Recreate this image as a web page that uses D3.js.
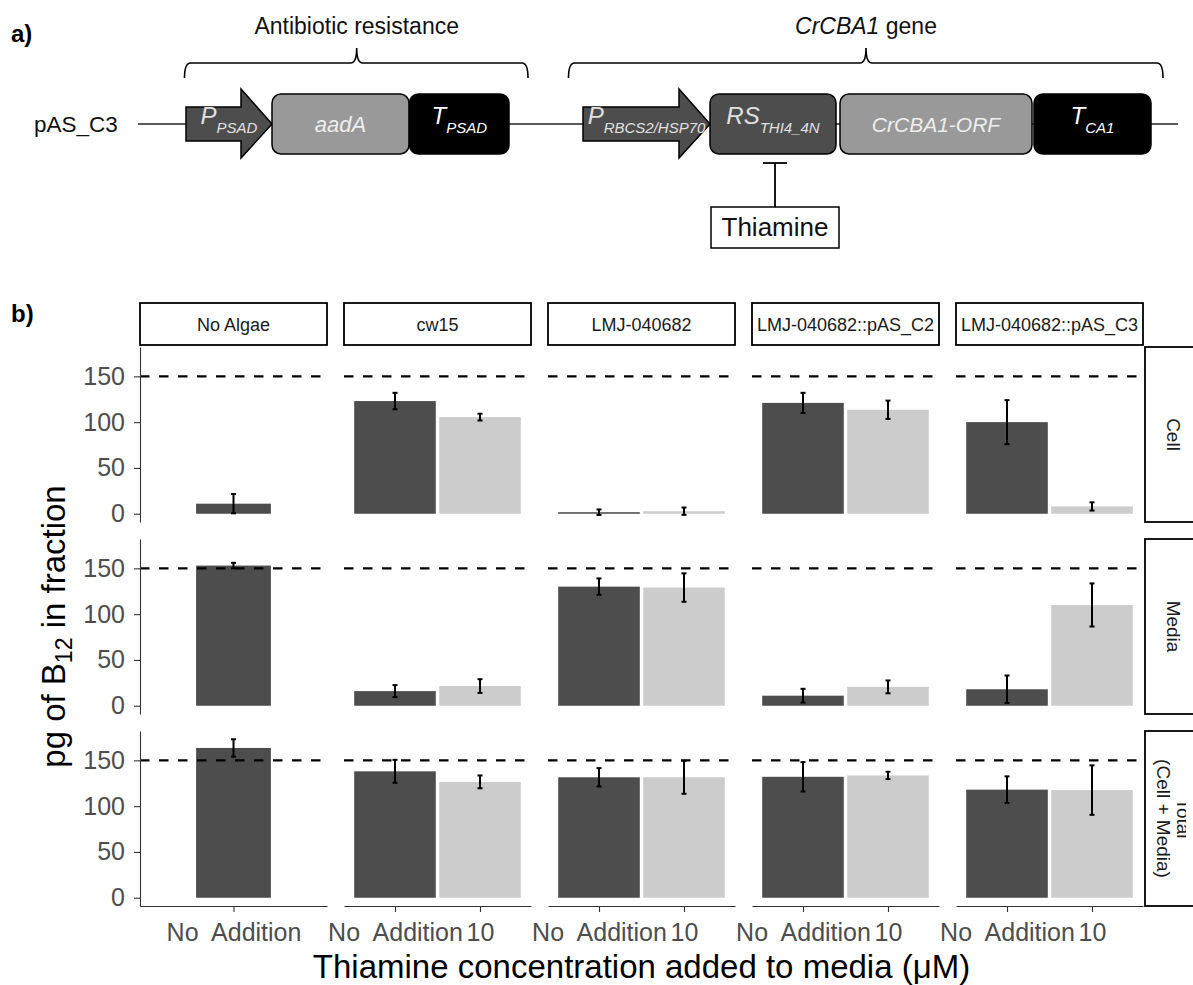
<!DOCTYPE html>
<html>
<head>
<meta charset="utf-8">
<script src="https://cdn.jsdelivr.net/npm/d3@7"></script>
<style>
  body { margin: 0; background: #fff; }
  svg { display: block; font-family: "Liberation Sans", Arial, Helvetica, sans-serif; }
</style>
</head>
<body>
<svg id="chart" width="1193" height="985"></svg>
<script>
// facet columns / rows and the x categories
var strains = ["No Algae", "cw15", "LMJ-040682", "LMJ-040682::pAS_C2", "LMJ-040682::pAS_C3"];
var fractions = ["Cell", "Media", "Total|(Cell + Media)"];
var thiamineLevels = ["No  Addition", "10"];
var yTicks = [0, 50, 100, 150];
var referenceLine = 150; // pg B12 added

// mean pg B12 per strain (null = not measured) and error half-widths
var cellNoAdd     = [11, 123, 1.7, 121, 100];
var cellNoAddErr  = [10.5, 9, 3, 11, 24];
var cellTen       = [null, 105.5, 2.8, 113.5, 8];
var cellTenErr    = [null, 3.7, 4, 10, 4.5];

var mediaNoAdd    = [153, 16, 130, 11, 18];
var mediaNoAddErr = [3, 6.5, 9, 7.5, 15];
var mediaTen      = [null, 21.5, 129, 20.6, 110];
var mediaTenErr   = [null, 7.5, 15.5, 7, 23.5];

var totalNoAdd    = [163.5, 138, 131.5, 132, 118];
var totalNoAddErr = [9.5, 12.5, 10, 16, 14.5];
var totalTen      = [null, 126.5, 131.5, 133.5, 117.5];
var totalTenErr   = [null, 7, 18, 4, 27];

// construct diagram parts (panel a)
var constructParts = [
  {kind: "arrow", main: "P", sub: "PSAD", fill: "#4D4D4D", text: "#e0e0e0"},
  {kind: "box", main: "aadA", sub: "", fill: "#999999", text: "#eeeeee"},
  {kind: "box", main: "T", sub: "PSAD", fill: "#000000", text: "#ffffff"},
  {kind: "arrow", main: "P", sub: "RBCS2/HSP70", fill: "#4D4D4D", text: "#e0e0e0"},
  {kind: "box", main: "RS", sub: "THI4_4N", fill: "#4D4D4D", text: "#e0e0e0"},
  {kind: "box", main: "CrCBA1-ORF", sub: "", fill: "#999999", text: "#eeeeee"},
  {kind: "box", main: "T", sub: "CA1", fill: "#000000", text: "#ffffff"}
];

var fractionMeans = [[cellNoAdd, cellTen], [mediaNoAdd, mediaTen], [totalNoAdd, totalTen]];
var fractionErrs = [[cellNoAddErr, cellTenErr], [mediaNoAddErr, mediaTenErr], [totalNoAddErr, totalTenErr]];

var svg = d3.select("#chart");
var ink = "#000";

// ---------- panel a: the construct ----------
var partX = [[186, 272], [272, 409], [409.5, 509], [583, 710], [710, 836], [840, 1032], [1034, 1151]];
var lineY = 124;

svg.append("text").attr("x", 11).attr("y", 42).attr("font-size", 24).attr("font-weight", "bold").text("a)");
svg.append("text").attr("x", 34).attr("y", lineY + 8).attr("font-size", 22.5).attr("fill", "#111").text("pAS_C3");

svg.append("line").attr("x1", 138).attr("x2", 1178).attr("y1", lineY).attr("y2", lineY)
  .attr("stroke", "#222").attr("stroke-width", 1.5);

function brace(xl, xr, xc, label, italicWord) {
  var yH = 63, yEnd = 78, yPeak = 48;
  var p = d3.path();
  p.moveTo(xl, yEnd);
  p.quadraticCurveTo(xl, yH, xl + 6, yH);
  p.lineTo(xc - 6, yH);
  p.quadraticCurveTo(xc, yH, xc, yPeak);
  p.quadraticCurveTo(xc, yH, xc + 6, yH);
  p.lineTo(xr - 6, yH);
  p.quadraticCurveTo(xr, yH, xr, yEnd);
  svg.append("path").attr("d", p.toString()).attr("fill", "none").attr("stroke", ink).attr("stroke-width", 1.6);
  var t = svg.append("text").attr("x", xc).attr("y", 34).attr("text-anchor", "middle").attr("font-size", 23).attr("fill", "#111");
  if (italicWord) {
    t.append("tspan").attr("font-style", "italic").text(italicWord);
    t.append("tspan").text(" " + label);
  } else {
    t.text(label);
  }
}
brace(184.5, 528, 356.7, "Antibiotic resistance");
brace(568.5, 1163, 866, "gene", "CrCBA1");

constructParts.forEach(function(d, i) {
  var x0 = partX[i][0], x1 = partX[i][1];
  var g = svg.append("g");
  if (d.kind === "arrow") {
    var headBase = x1 - 31;
    g.append("path")
      .attr("d", "M" + x0 + "," + (lineY - 17) + "H" + headBase + "V" + (lineY - 35) + "L" + x1 + "," + lineY +
        "L" + headBase + "," + (lineY + 34) + "V" + (lineY + 17) + "H" + x0 + "Z")
      .attr("fill", d.fill).attr("stroke", ink).attr("stroke-width", 1.5);
  } else {
    g.append("rect").attr("x", x0).attr("y", lineY - 30).attr("width", x1 - x0).attr("height", 60)
      .attr("rx", 9).attr("fill", d.fill).attr("stroke", ink).attr("stroke-width", 1.5);
  }
  var t = g.append("text").attr("x", (x0 + x1) / 2).attr("text-anchor", "middle").attr("font-style", "italic").attr("fill", d.text);
  if (d.sub) {
    t.attr("y", lineY);
    t.append("tspan").attr("font-size", 24).text(d.main);
    t.append("tspan").attr("font-size", 15).attr("dy", 9).text(d.sub);
  } else {
    t.attr("y", lineY + 8).attr("font-size", d.main.length > 5 ? 21 : 22).text(d.main);
  }
});

// thiamine repression of the riboswitch
svg.append("line").attr("x1", 775).attr("x2", 775).attr("y1", 163).attr("y2", 207).attr("stroke", ink).attr("stroke-width", 1.8);
svg.append("line").attr("x1", 763).attr("x2", 787).attr("y1", 163).attr("y2", 163).attr("stroke", ink).attr("stroke-width", 1.8);
svg.append("rect").attr("x", 711).attr("y", 207).attr("width", 128).attr("height", 41)
  .attr("fill", "#fff").attr("stroke", ink).attr("stroke-width", 1.5);
svg.append("text").attr("x", 775).attr("y", 236).attr("text-anchor", "middle").attr("font-size", 26).attr("fill", "#111").text("Thiamine");

// ---------- panel b: faceted bar chart ----------
var plot = {left: 140, top: 347, panelW: 187, panelH: 175, gapX: 17, gapY: 17, stripH: 42, stripGap: 2};
svg.append("text").attr("x", 11).attr("y", 322).attr("font-size", 24).attr("font-weight", "bold").text("b)");

var y = d3.scaleLinear().domain([-9, 182]).range([plot.panelH, 0]);
var fillFor = d3.scaleOrdinal().domain(thiamineLevels).range(["#4D4D4D", "#CCCCCC"]);

function panelLevels(s) {
  return thiamineLevels.filter(function(l, i) { return fractionMeans[0][i][s] !== null; });
}

function styleAxis(g) {
  g.attr("font-size", null).attr("font-family", null);
  g.select(".domain").attr("stroke", "#333").attr("stroke-width", 1.1);
  g.selectAll(".tick line").attr("stroke", "#333").attr("stroke-width", 1.1);
  g.selectAll(".tick text").attr("font-size", 25).attr("fill", "#4D4D4D").style("white-space", "pre");
}

svg.append("clipPath").attr("id", "rightClip")
  .append("rect").attr("x", 1145).attr("y", 0).attr("width", 41).attr("height", 985);

strains.forEach(function(strain, c) {
  var px = plot.left + c * (plot.panelW + plot.gapX);
  var levels = panelLevels(c);
  var x = d3.scalePoint().domain(levels).range([0, plot.panelW]).padding(0.6);
  var bw = levels.length === 1 ? 0.48 * x.step() : 0.96 * x.step();

  // strip on top
  svg.append("rect").attr("x", px).attr("y", plot.top - plot.stripGap - plot.stripH)
    .attr("width", plot.panelW).attr("height", plot.stripH)
    .attr("fill", "#fff").attr("stroke", ink).attr("stroke-width", 1.8);
  svg.append("text").attr("x", px + plot.panelW / 2).attr("y", plot.top - plot.stripGap - plot.stripH / 2 + 6.5)
    .attr("text-anchor", "middle").attr("font-size", 18).attr("fill", "#1A1A1A").text(strain);

  fractions.forEach(function(frac, r) {
    var py = plot.top + r * (plot.panelH + plot.gapY);
    var g = svg.append("g").attr("transform", "translate(" + px + "," + py + ")");
    var rows = levels.map(function(l) {
      var i = thiamineLevels.indexOf(l);
      return {level: l, mean: fractionMeans[r][i][c], err: fractionErrs[r][i][c]};
    });

    g.selectAll("rect.bar").data(rows).join("rect").attr("class", "bar")
      .attr("x", function(d) { return x(d.level) - bw / 2; })
      .attr("y", function(d) { return y(d.mean); })
      .attr("width", bw)
      .attr("height", function(d) { return y(0) - y(d.mean); })
      .attr("fill", function(d) { return fillFor(d.level); });

    var eb = g.selectAll("g.err").data(rows).join("g").attr("class", "err")
      .attr("stroke", ink).attr("stroke-width", 2);
    eb.append("line")
      .attr("x1", function(d) { return x(d.level); }).attr("x2", function(d) { return x(d.level); })
      .attr("y1", function(d) { return y(d.mean + d.err); }).attr("y2", function(d) { return y(Math.max(d.mean - d.err, -9)); });
    [1, -1].forEach(function(sign) {
      eb.append("line")
        .attr("x1", function(d) { return x(d.level) - 2.5; }).attr("x2", function(d) { return x(d.level) + 2.5; })
        .attr("y1", function(d) { return y(d.mean + sign * d.err); }).attr("y2", function(d) { return y(d.mean + sign * d.err); });
    });

    g.append("line").attr("x1", 0).attr("x2", plot.panelW)
      .attr("y1", y(referenceLine)).attr("y2", y(referenceLine))
      .attr("stroke", ink).attr("stroke-width", 2.2).attr("stroke-dasharray", "9.5,9.5");

    if (c === 0) {
      g.append("g").call(d3.axisLeft(y).tickValues(yTicks).tickSize(6).tickSizeOuter(0).tickPadding(9)).call(styleAxis);
    }
    if (r === fractions.length - 1) {
      g.append("g").attr("transform", "translate(0," + plot.panelH + ")")
        .call(d3.axisBottom(x).tickSize(6).tickSizeOuter(0).tickPadding(11)).call(styleAxis);
    }

    if (c === strains.length - 1) {
      var sx = px + plot.panelW + plot.stripGap;
      svg.append("rect").attr("x", sx).attr("y", py).attr("width", 70).attr("height", plot.panelH)
        .attr("fill", "#fff").attr("stroke", ink).attr("stroke-width", 1.8);
      var lines = frac.split("|");
      var cxs = sx + 28;
      var tg = svg.append("g").attr("clip-path", "url(#rightClip)");
      lines.forEach(function(line, k) {
        var off = (k - (lines.length - 1) / 2) * 20;
        tg.append("text")
          .attr("transform", "translate(" + (cxs - off) + "," + (py + plot.panelH / 2) + ") rotate(90)")
          .attr("y", 6.5).attr("text-anchor", "middle").attr("font-size", 19).attr("fill", "#1A1A1A").text(line);
      });
    }
  });
});

// axis titles
var plotRight = plot.left + strains.length * plot.panelW + (strains.length - 1) * plot.gapX;
svg.append("text").attr("x", (plot.left + plotRight) / 2).attr("y", 978).attr("text-anchor", "middle")
  .attr("font-size", 33).attr("fill", ink).text("Thiamine concentration added to media (\u03BCM)");

var yTitle = svg.append("text")
  .attr("transform", "translate(65," + (plot.top + (3 * plot.panelH + 2 * plot.gapY) / 2) + ") rotate(-90)")
  .attr("text-anchor", "middle").attr("font-size", 33).attr("fill", ink);
yTitle.append("tspan").text("pg of B");
yTitle.append("tspan").attr("font-size", 23).attr("dy", 7).text("12");
yTitle.append("tspan").attr("dy", -7).text(" in fraction");
</script>
</body>
</html>
